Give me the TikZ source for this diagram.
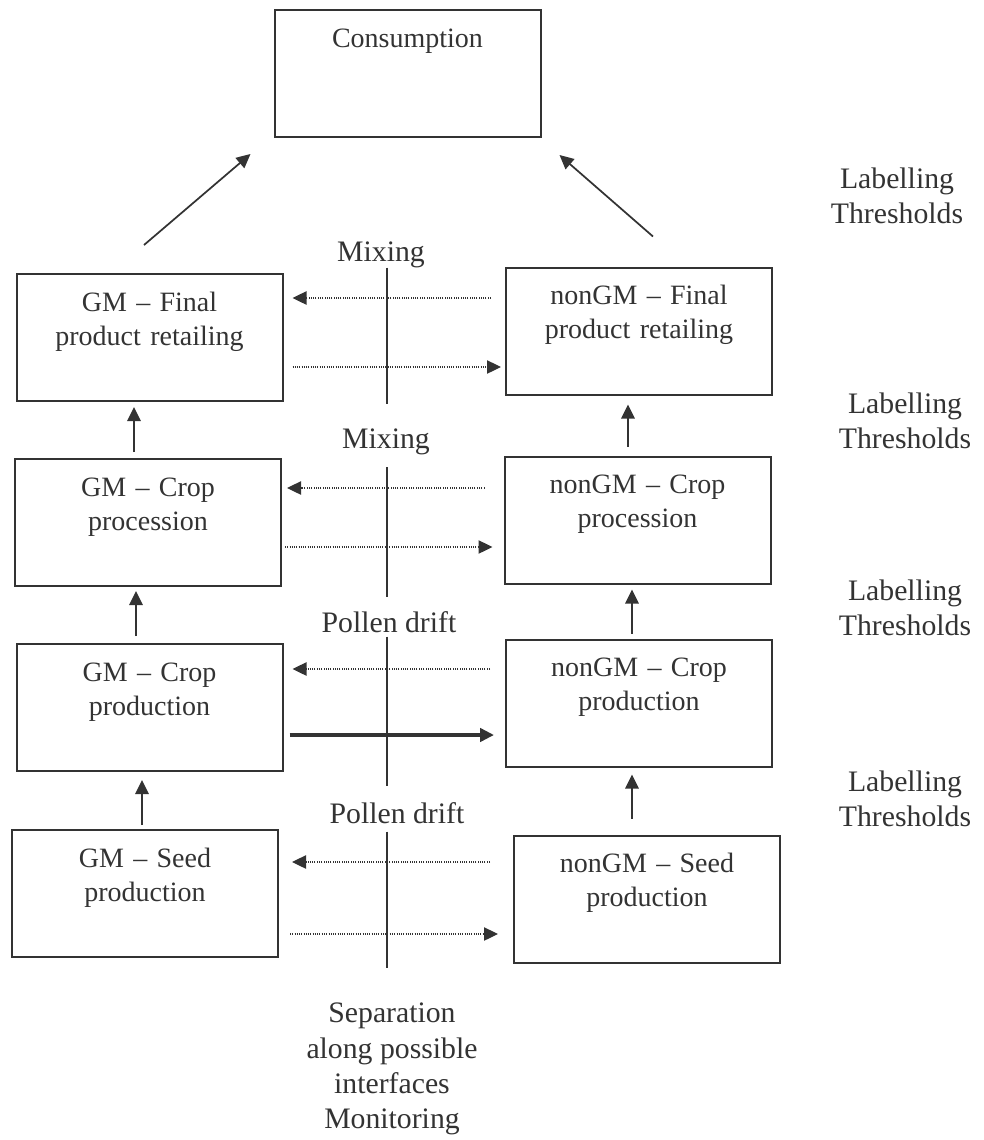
\documentclass[tikz,border=0pt]{standalone}
\usepackage{fontspec}
\setmainfont{Liberation Serif}
\usepackage{tikz}
\usetikzlibrary{arrows.meta}
\usetikzlibrary{calc}
\colorlet{ink}{black!80}
\newcommand\boxfont{\fontsize{21pt}{25.5pt}\selectfont}
\newcommand\tagfont{\fontsize{22.3pt}{26.5pt}\selectfont}
\tikzstyle{stage}=[draw=ink,line width=1.5pt,inner sep=0pt,text width=199.5pt,align=center,text height=27.75pt,text depth=67.5pt,font=\boxfont,text=ink]
\tikzstyle{tag}=[inner sep=0pt,align=center,font=\tagfont,text=ink]
\tikzstyle{flowhead}=[>/.tip={Triangle[length=10.5pt,width=10pt]}]
\tikzstyle{flow} =[draw=ink,line width=1.3pt,flowhead,->]
\tikzstyle{leak} =[draw=ink,line width=.9pt,dash pattern=on .75pt off .95pt,flowhead,->]
\tikzstyle{drift}=[draw=ink,line width=3pt,flowhead,->]
\tikzstyle{divide}=[draw=ink,line width=1.2pt]

\begin{document}
\begin{tikzpicture}[x=0.75pt,y=-0.75pt]
	\useasboundingbox (0,0) rectangle (984,1140);
	% chain stages
	\node[stage] (cons)    at (407.5,73.5) {Consumption};
	\node[stage] (gmfinal) at (149.5,337.5) {GM – Final\\product retailing};
	\node[stage] (ngfinal) at (639,331)     {nonGM – Final\\product retailing};
	\node[stage] (gmproc)  at (148,522.5)   {GM – Crop\\procession};
	\node[stage] (ngproc)  at (637.5,520)   {nonGM – Crop\\procession};
	\node[stage] (gmprod)  at (149.5,707.5) {GM – Crop\\production};
	\node[stage] (ngprod)  at (639,703)     {nonGM – Crop\\production};
	\node[stage] (gmseed)  at (145,893.5)   {GM – Seed\\production};
	\node[stage] (ngseed)  at (647,899)     {nonGM – Seed\\production};
	% interfaces
	\node[tag,anchor=base] (mixa)   at (381,261) {Mixing};
	\node[tag,anchor=base] (mixb)   at (386,448) {Mixing};
	\node[tag,anchor=base] (drifta) at (389,632) {Pollen drift};
	\node[tag,anchor=base] (driftb) at (397,823) {Pollen drift};
	\node[tag,anchor=north] (lta) at (897,167.5) {Labelling\\Thresholds};
	\node[tag,anchor=north] (ltb) at (905,392.5) {Labelling\\Thresholds};
	\node[tag,anchor=north] (ltc) at (905,579.5) {Labelling\\Thresholds};
	\node[tag,anchor=north] (ltd) at (905,770.5) {Labelling\\Thresholds};
	\node[tag,anchor=north] (sepnote) at (392,1003) {Separation\\along possible\\interfaces\\Monitoring};
	% separation lines
	\coordinate (sepx) at (387,0);
	\draw[divide,shorten >=-1.5pt] (mixa.south -| sepx) -- (gmfinal.south -| sepx);
	\draw[divide,shorten <=9.4pt,shorten >=-7.5pt] (mixb.south -| sepx) -- (gmproc.south -| sepx);
	\draw[divide,shorten <=3pt,shorten >=-10.5pt] (drifta.south -| sepx) -- (gmprod.south -| sepx);
	\draw[divide,shorten <=6pt,shorten >=-7.5pt] (driftb.south -| sepx) -- (gmseed.south -| sepx);
	% flow up the chain
	\draw[flow] ($(gmfinal.north)+(-5.5,-28)$) -- ($(cons.south west)+(-23,16)$);
	\draw[flow] ($(ngfinal.north)+(14,-30)$) -- ($(cons.south east)+(18,17)$);
	\draw[flow,shorten <=4.5pt,shorten >=3.75pt] (gmproc.north -| 134,0) -- (gmfinal.south -| 134,0);
	\draw[flow,shorten <=6.75pt,shorten >=6.75pt] (ngproc.north -| 628,0) -- (ngfinal.south -| 628,0);
	\draw[flow,shorten <=5.25pt,shorten >=3pt] (gmprod.north -| 136,0) -- (gmproc.south -| 136,0);
	\draw[flow,shorten <=3.75pt,shorten >=3.75pt] (ngprod.north -| 632,0) -- (ngproc.south -| 632,0);
	\draw[flow,shorten <=3pt,shorten >=6pt] (gmseed.north -| 142,0) -- (gmprod.south -| 142,0);
	\draw[flow,shorten <=12pt,shorten >=5.25pt] (ngseed.north -| 632,0) -- (ngprod.south -| 632,0);
	% exchanges across the interfaces
	\draw[leak,shorten <=10.5pt,shorten >=6.75pt] (ngfinal.west |- 0,298) -- (gmfinal.east |- 0,298);
	\draw[leak,shorten <=6.75pt,shorten >=3pt]    (gmfinal.east |- 0,367) -- (ngfinal.west |- 0,367);
	\draw[leak,shorten <=14.25pt,shorten >=3.75pt] (ngproc.west |- 0,488) -- (gmproc.east |- 0,488);
	\draw[leak,shorten <=2.25pt,shorten >=8.25pt]  (gmproc.east |- 0,547) -- (ngproc.west |- 0,547);
	\draw[leak,shorten <=11.25pt,shorten >=6.75pt] (ngprod.west |- 0,669) -- (gmprod.east |- 0,669);
	\draw[drift,shorten <=4.5pt,shorten >=8.25pt]  (gmprod.east |- 0,735) -- (ngprod.west |- 0,735);
	\draw[leak,shorten <=17.25pt,shorten >=9.75pt] (ngseed.west |- 0,862) -- (gmseed.east |- 0,862);
	\draw[leak,shorten <=8.25pt,shorten >=11.25pt] (gmseed.east |- 0,934) -- (ngseed.west |- 0,934);
\end{tikzpicture}
\end{document}
